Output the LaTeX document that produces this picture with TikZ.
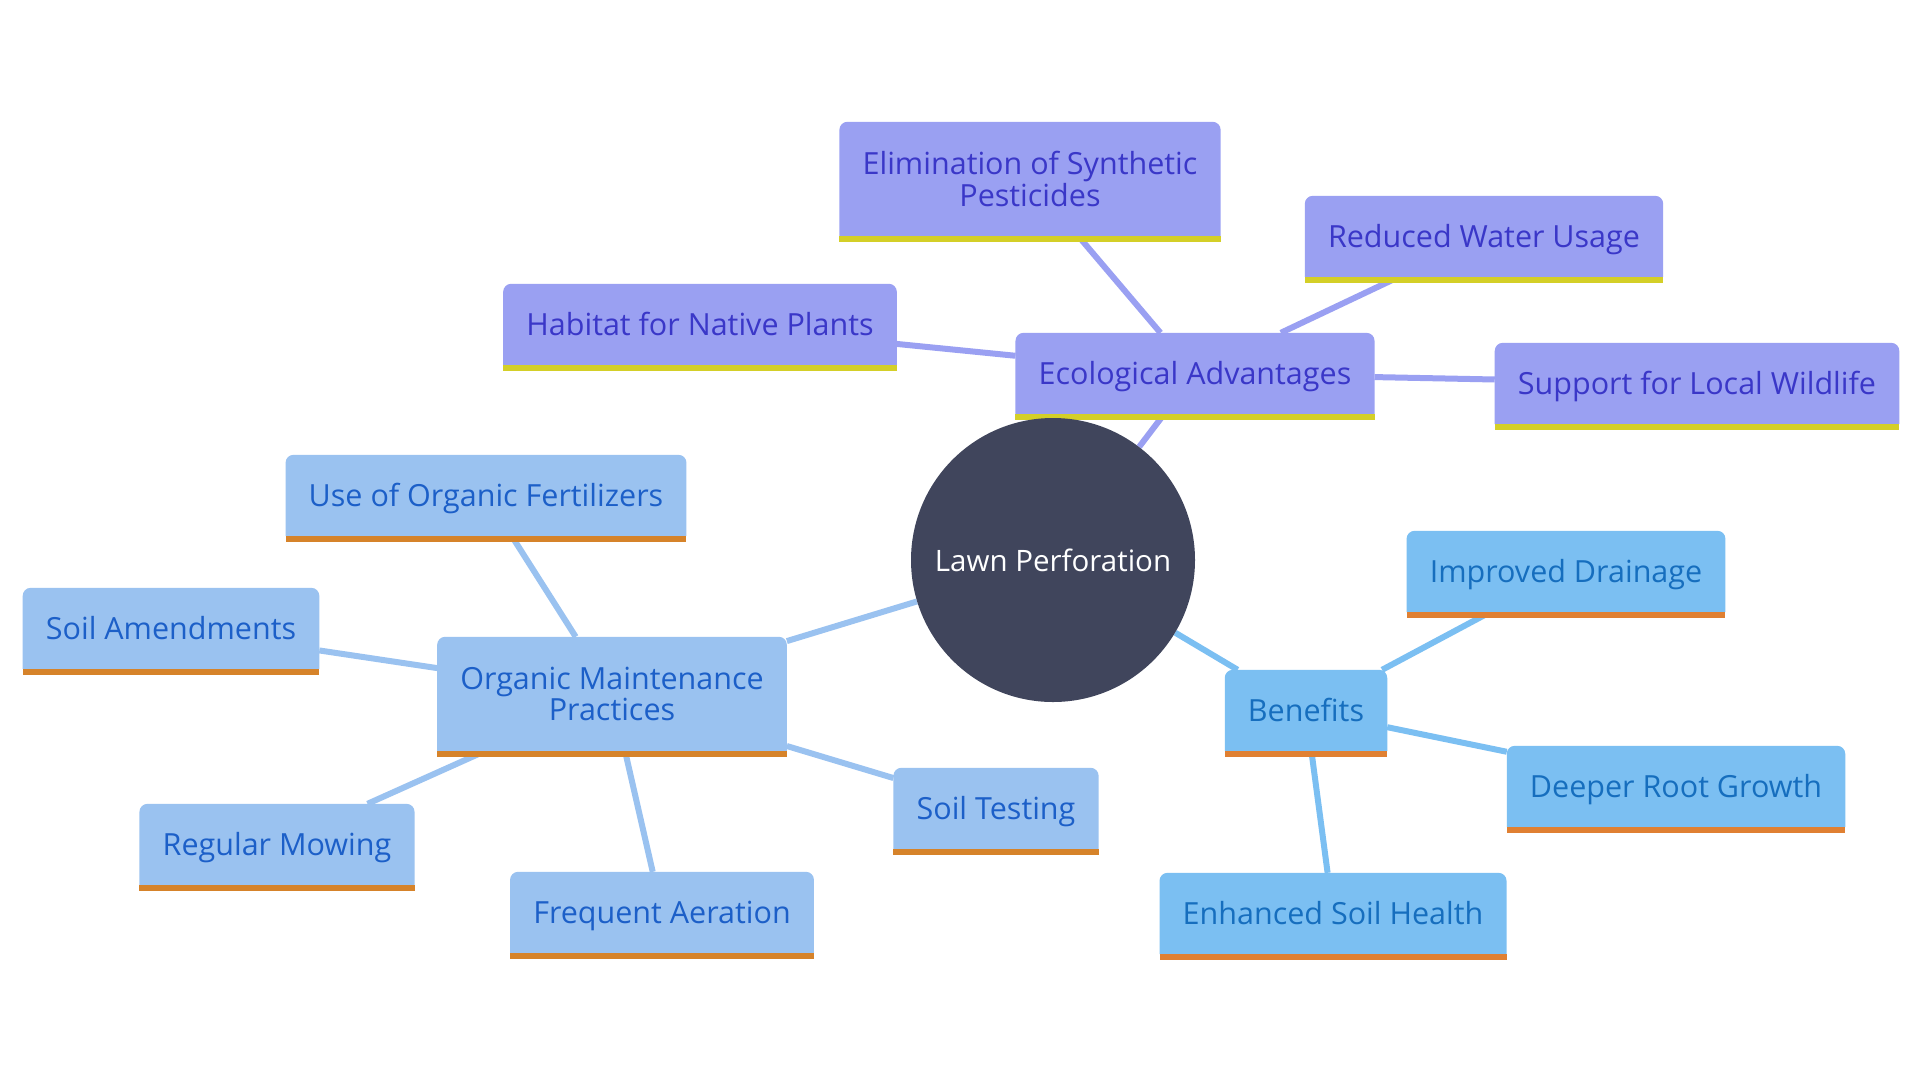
\documentclass[tikz,border=0pt]{standalone}
\usepackage{fontspec}
\setmainfont{Open Sans}
\usetikzlibrary{backgrounds}

\definecolor{ecofill}{HTML}{9AA0F2}
\definecolor{ecotext}{HTML}{3A37C8}
\definecolor{ecoline}{HTML}{D4CF28}
\definecolor{orgfill}{HTML}{9AC2F0}
\definecolor{orgtext}{HTML}{1C5FC8}
\definecolor{orgline}{HTML}{D6832A}
\definecolor{benfill}{HTML}{7BBFF2}
\definecolor{bentext}{HTML}{166EBE}
\definecolor{benline}{HTML}{E08032}
\definecolor{hubfill}{HTML}{40455C}

\begin{document}
\begin{tikzpicture}[x=1pt, y=-1pt,
    box/.style={rectangle, align=center, inner xsep=23pt, inner ysep=0pt, minimum height=81pt, text height=27pt, text depth=5pt, font=\fontsize{30.5}{28}\selectfont},
    tall/.style={minimum height=114pt, text height={}, text depth={}},
    eco/.style={box, text=ecotext},
    org/.style={box, text=orgtext},
    ben/.style={box, text=bentext},
    hub/.style={circle, fill=hubfill, text=white, minimum size=284pt, inner sep=0pt, font=\fontsize{29.5}{28}\selectfont},
    link/.style={line width=6pt}
  ]
  \useasboundingbox (0,0) rectangle (1920,1080);

  \node[hub] (hub) at (1053,560) {Lawn Perforation};

  % ecological branch
  \node[eco] (eco) at (1195,373.5) {Ecological Advantages};
  \node[eco, tall] (elim) at (1030,179) {Elimination of Synthetic\\Pesticides};
  \node[eco] (water) at (1484,236.5) {Reduced Water Usage};
  \node[eco] (habitat) at (700,324.5) {Habitat for Native Plants};
  \node[eco] (wildlife) at (1697,383.5) {Support for Local Wildlife};

  % organic branch
  \node[org, tall] (organic) at (612,694) {Organic Maintenance\\Practices};
  \node[org] (fert) at (486,495.5) {Use of Organic Fertilizers};
  \node[org] (amend) at (171,628.5) {Soil Amendments};
  \node[org] (mowing) at (277,844.5) {Regular Mowing};
  \node[org] (aeration) at (662,912.5) {Frequent Aeration};
  \node[org] (testing) at (996,808.5) {Soil Testing};

  % benefits branch
  \node[ben] (benefits) at (1306,710.5) {Benefits};
  \node[ben] (drainage) at (1566,571.5) {Improved Drainage};
  \node[ben] (root) at (1676,786.5) {Deeper Root Growth};
  \node[ben] (health) at (1333,913.5) {Enhanced Soil Health};

  \begin{scope}[on background layer]
    \foreach \a/\b in {hub/eco, eco/elim, eco/water, eco/habitat, eco/wildlife}
      \draw[link, ecofill] (\a) -- (\b);
    \foreach \a/\b in {hub/organic, organic/fert, organic/amend, organic/mowing, organic/aeration, organic/testing}
      \draw[link, orgfill] (\a) -- (\b);
    \foreach \a/\b in {hub/benefits, benefits/drainage, benefits/root, benefits/health}
      \draw[link, benfill] (\a) -- (\b);
    % box backgrounds with a coloured bottom band
    \foreach \n/\f/\u in {eco/ecofill/ecoline, elim/ecofill/ecoline, water/ecofill/ecoline, habitat/ecofill/ecoline, wildlife/ecofill/ecoline,
        organic/orgfill/orgline, fert/orgfill/orgline, amend/orgfill/orgline, mowing/orgfill/orgline, aeration/orgfill/orgline, testing/orgfill/orgline,
        benefits/benfill/benline, drainage/benfill/benline, root/benfill/benline, health/benfill/benline} {
      \fill[\f] (\n.south west) [rounded corners=8pt] -- (\n.north west) -- (\n.north east) [sharp corners] -- (\n.south east) -- cycle;
      \fill[\u] (\n.south west) rectangle ([yshift=-6pt]\n.south east);
    }
  \end{scope}
\end{tikzpicture}
\end{document}
